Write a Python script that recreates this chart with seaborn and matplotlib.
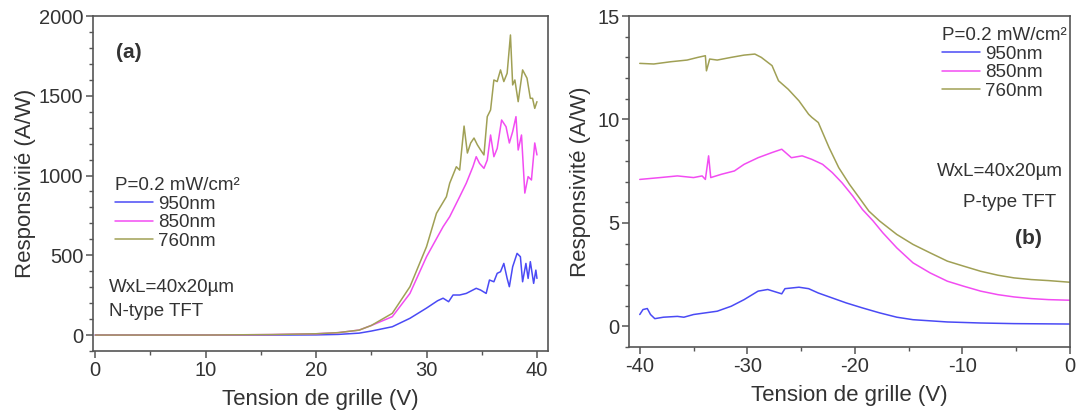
import numpy as np
import pandas as pd
import matplotlib
matplotlib.use("Agg")
import matplotlib.pyplot as plt
from matplotlib.ticker import MultipleLocator
import seaborn as sns

# ---- panel (a): N-type TFT, responsivity vs gate voltage ----
va_950 = [0, 10, 16, 20, 22, 23.9, 25, 26.9, 28.5, 30.0, 31.0, 31.5, 32.0, 32.4, 33.0, 33.6,
          34.5, 34.9, 35.4, 35.7, 36.1, 36.4, 36.7, 37.0, 37.3, 37.5, 37.8, 38.2, 38.5, 38.7,
          39.0, 39.2, 39.4, 39.7, 39.9, 40.0]
ra_950 = [0, 0, 0, 1, 4, 12, 25, 52, 105, 169, 215, 231, 209, 251, 251, 261,
          293, 282, 261, 345, 334, 387, 397, 449, 355, 303, 428, 512, 491, 334,
          449, 355, 460, 324, 407, 355]

va_850 = [0, 10, 16, 20, 22, 23.9, 25, 26.9, 28.5, 30.0, 31.5, 32.1, 33.0, 33.6, 34.2, 34.5,
          34.8, 35.2, 35.5, 35.8, 36.1, 36.4, 36.8, 37.2, 37.5, 37.8, 38.1, 38.3, 38.6, 38.9,
          39.2, 39.5, 39.8, 40.0]
ra_850 = [0, 0, 3, 8, 15, 31, 60, 115, 261, 491, 679, 742, 867, 952, 1055, 1118,
          1076, 1045, 1097, 1254, 1118, 1170, 1348, 1306, 1204, 1275, 1369, 1160, 1254, 890,
          993, 972, 1204, 1129]

va_760 = [0, 10, 16, 20, 22, 23.9, 25, 26.9, 28.5, 30.0, 30.9, 31.8, 32.1, 32.7, 33.0, 33.4,
          33.7, 34.0, 34.3, 34.6, 34.9, 35.2, 35.5, 35.8, 36.1, 36.4, 36.7, 37.0, 37.3, 37.6,
          37.8, 38.0, 38.3, 38.7, 39.1, 39.4, 39.6, 39.8, 40.0]
ra_760 = [0, 0, 3, 8, 15, 31, 60, 136, 303, 554, 763, 867, 952, 1055, 1034, 1310,
          1141, 1204, 1235, 1193, 1160, 1129, 1369, 1411, 1599, 1589, 1662, 1589, 1641, 1881,
          1568, 1599, 1463, 1662, 1610, 1484, 1484, 1421, 1463]

# ---- panel (b): P-type TFT ----
vb_950 = [-40, -39.7, -39.3, -39.0, -38.6, -37.8, -36.5, -35.9, -35.0, -33.9, -32.8, -31.5,
          -30.3, -29.0, -28.1, -26.8, -26.5, -25.2, -24.3, -23.4, -22.1, -20.8, -19.3, -17.7,
          -16.1, -14.6, -11.4, -8.3, -5.2, 0]
rb_950 = [0.57, 0.81, 0.86, 0.57, 0.37, 0.44, 0.48, 0.44, 0.57, 0.65, 0.73, 0.97,
          1.29, 1.70, 1.78, 1.57, 1.82, 1.89, 1.82, 1.61, 1.37, 1.13, 0.89, 0.65,
          0.44, 0.32, 0.21, 0.16, 0.13, 0.11]

vb_850 = [-40, -38.1, -36.5, -35.0, -34.2, -33.9, -33.6, -33.4, -32.4, -31.2, -30.3, -29.0,
          -27.7, -26.8, -25.9, -24.9, -24.0, -23.0, -22.1, -21.2, -20.2, -19.3, -18.3, -17.4,
          -16.1, -14.6, -13.0, -11.4, -9.9, -8.3, -6.7, -5.2, -3.6, -2.0, 0]
rb_850 = [7.10, 7.19, 7.27, 7.19, 7.27, 7.10, 8.24, 7.19, 7.35, 7.51, 7.83, 8.15,
          8.40, 8.56, 8.15, 8.24, 8.07, 7.83, 7.43, 6.94, 6.30, 5.65, 5.09, 4.52,
          3.79, 3.07, 2.58, 2.18, 1.94, 1.70, 1.53, 1.42, 1.34, 1.29, 1.26]

vb_760 = [-40, -38.7, -37.1, -35.6, -34.6, -33.9, -33.8, -33.5, -32.8, -31.5, -30.3, -29.3,
          -28.7, -27.7, -27.1, -26.2, -25.2, -24.3, -24.0, -23.4, -22.4, -21.5, -20.5, -19.6,
          -18.7, -17.7, -16.1, -14.6, -13.0, -11.4, -9.9, -8.3, -6.7, -5.2, -3.6, -2.0, 0]
rb_760 = [12.71, 12.68, 12.79, 12.87, 13.0, 13.08, 12.35, 12.92, 12.87, 13.0, 13.11, 13.16,
          13.0, 12.6, 11.87, 11.46, 10.9, 10.25, 10.1, 9.85, 8.64, 7.67, 6.86, 6.22,
          5.57, 5.09, 4.44, 3.96, 3.55, 3.15, 2.91, 2.66, 2.47, 2.34, 2.26, 2.21, 2.13]

labels = ["950nm", "850nm", "760nm"]
colors = ["#4a4af5", "#f24cf2", "#a0a055"]

sns.set_style("white")
plt.rcParams["font.family"] = ["Liberation Sans", "DejaVu Sans"]
plt.rcParams["axes.unicode_minus"] = False


def long_df(pairs):
    rows = []
    for lab, (v, r) in zip(labels, pairs):
        rows.append(pd.DataFrame({"V": v, "R": r, "lambda": lab}))
    return pd.concat(rows, ignore_index=True)


df_a = long_df([(va_950, ra_950), (va_850, ra_850), (va_760, ra_760)])
df_b = long_df([(vb_950, rb_950), (vb_850, rb_850), (vb_760, rb_760)])

fig = plt.figure(figsize=(10.78, 4.16), dpi=100)
W, H = 1078, 416
ax1 = fig.add_axes([93 / W, 1 - 351 / H, 455 / W, 335 / H])
ax2 = fig.add_axes([629 / W, 1 - 347 / H, 441 / W, 331 / H])

pal = dict(zip(labels, colors))
for ax, df in ((ax1, df_a), (ax2, df_b)):
    sns.lineplot(data=df, x="V", y="R", hue="lambda", palette=pal, ax=ax,
                 lw=1.1, sort=False, estimator=None)
    for s in ax.spines.values():
        s.set_color("#555555")
        s.set_linewidth(1.2)
    ax.tick_params(which="both", direction="out", colors="#555555", labelcolor="#333333",
                   left=True, bottom=True)
    ax.tick_params(which="major", length=5, width=1.1, labelsize=14.5, pad=2)
    ax.tick_params(which="minor", length=3, width=1.0)
    ax.xaxis.set_minor_locator(MultipleLocator(5))
    ax.set_xlabel("Tension de grille (V)", fontsize=16, color="#333333", labelpad=7)

ax1.set_xlim(-0.2, 41)
ax1.set_ylim(-100, 2000)
ax1.set_xticks([0, 10, 20, 30, 40])
ax1.set_yticks([0, 500, 1000, 1500, 2000])
ax1.yaxis.set_minor_locator(MultipleLocator(100))
ax1.set_ylabel("Responsiviié (A/W)", fontsize=16, color="#333333", labelpad=2)

ax2.set_xlim(-41, 0)
ax2.set_ylim(-1, 15)
ax2.set_xticks([-40, -30, -20, -10, 0])
ax2.set_yticks([0, 5, 10, 15])
ax2.yaxis.set_minor_locator(MultipleLocator(1))
ax2.set_ylabel("Responsivité (A/W)", fontsize=16, color="#333333", labelpad=4)

title = "P=0.2 mW/cm\u00b2"
leg_kw = dict(title=title, frameon=False, loc="upper left", bbox_transform=fig.transFigure,
              borderpad=0, borderaxespad=0, handlelength=2.0, handletextpad=0.3,
              labelspacing=0.08, fontsize=13.5, title_fontsize=13.5, alignment="left")
h, l = ax1.get_legend_handles_labels()
ax1.legend(h, l, bbox_to_anchor=(115 / W, 1 - 177 / H), **leg_kw)
h, l = ax2.get_legend_handles_labels()
lg2 = ax2.legend(h, l, bbox_to_anchor=(942 / W, 1 - 27 / H), **leg_kw)
for lg in (ax1.get_legend(), lg2):
    for t in lg.get_texts():
        t.set_color("#333333")
    lg.get_title().set_color("#333333")

txt = dict(transform=fig.transFigure, color="#333333", fontsize=13.5)
fig.text(116 / W, 1 - 53 / H, "(a)", fontweight="bold", va="center", ha="left",
         **{**txt, "fontsize": 15})
fig.text(109 / W, 1 - 288 / H, "WxL=40x20\u00b5m", va="center", ha="left", **txt)
fig.text(109 / W, 1 - 311 / H, "N-type TFT", va="center", ha="left", **txt)
fig.text(1000 / W, 1 - 172 / H, "WxL=40x20\u00b5m", va="center", ha="center", **txt)
fig.text(1010 / W, 1 - 203 / H, "P-type TFT", va="center", ha="center", **txt)
fig.text(1028 / W, 1 - 238 / H, "(b)", fontweight="bold", va="center", ha="center",
         **{**txt, "fontsize": 15})

fig.savefig("out.png", dpi=100)
